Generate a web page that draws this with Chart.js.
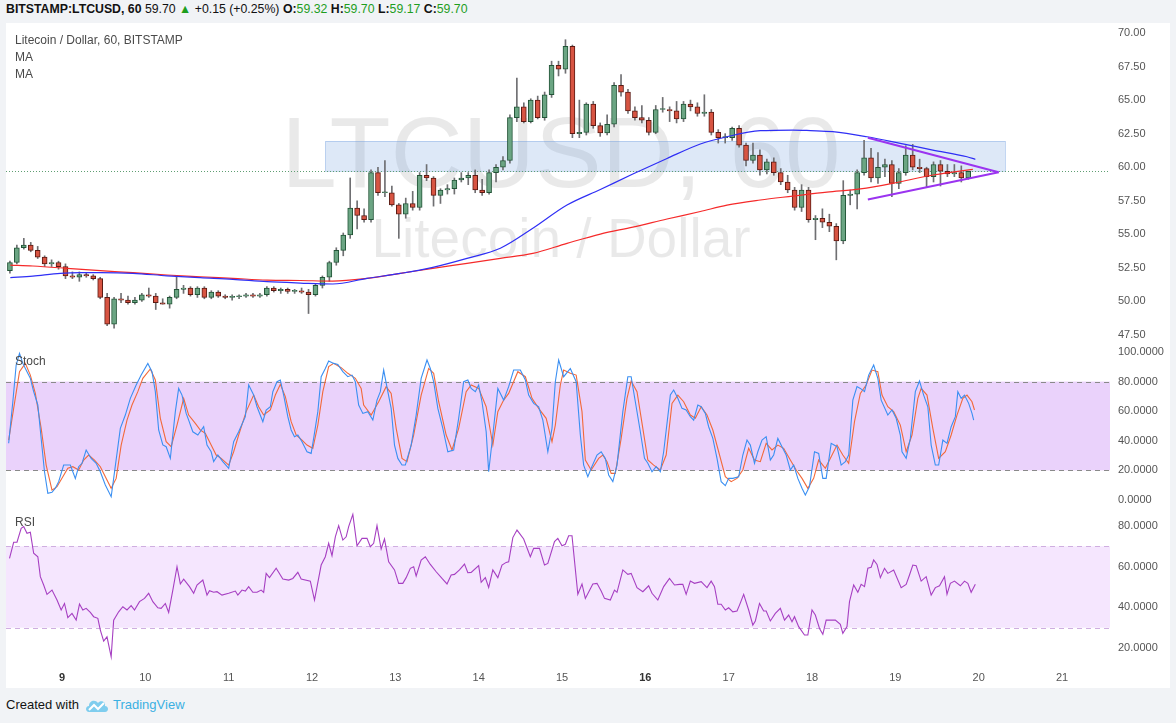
<!DOCTYPE html>
<html lang="en">

<head>
    <meta charset="UTF-8">
    <title>LTCUSD 60</title>
    <style>
        body {
            margin: 0;
            width: 1176px;
            height: 723px;
            background: #f1f3f6;
            font-family: "Liberation Sans", Arial, sans-serif;
            position: relative;
            overflow: hidden;
        }

        #hdr {
            position: absolute;
            left: 6px;
            top: 2px;
            font-size: 12.3px;
            color: #111;
            white-space: nowrap;
        }

        #hdr .g {
            color: #1e9e1e;
        }

        #panel {
            position: absolute;
            left: 6px;
            top: 23px;
            width: 1164px;
            height: 665px;
            background: #fff;
        }

        .pane {
            position: absolute;
            left: 6px;
        }

        .lbl {
            position: absolute;
            left: 15px;
            font-size: 12px;
            color: #4a4a4a;
            white-space: nowrap;
        }

        #foot {
            position: absolute;
            left: 6px;
            top: 697px;
            font-size: 13px;
            color: #131313;
            white-space: nowrap;
        }

        #foot svg {
            vertical-align: -4px;
            margin: 0 4px 0 6px;
        }

        #foot .tv {
            color: #3bb0e2;
        }
    </style>
</head>

<body>
    <div id="hdr"><b>BITSTAMP:LTCUSD, 60</b> 59.70 <span class="g">&#9650;</span> +0.15 (+0.25%)
        <b>O:</b><span class="g">59.32</span> <b>H:</b><span class="g">59.70</span> <b>L:</b><span
            class="g">59.17</span> <b>C:</b><span class="g">59.70</span></div>
    <div id="panel"></div>

    <canvas id="cvsMain" class="pane" width="1164" height="322" style="top:23px"></canvas>
    <canvas id="cvsStoch" class="pane" width="1164" height="167" style="top:345px"></canvas>
    <canvas id="cvsRsi" class="pane" width="1164" height="176" style="top:512px"></canvas>

    <div class="lbl" style="top:33px">Litecoin / Dollar, 60, BITSTAMP</div>
    <div class="lbl" style="top:50px">MA</div>
    <div class="lbl" style="top:67px">MA</div>
    <div class="lbl" style="top:354px">Stoch</div>
    <div class="lbl" style="top:515px">RSI</div>

    <div id="foot">Created with<svg width="24" height="16" viewBox="0 0 24 16">
            <path d="M4 15 C0 15 0 9 4 9 C4 4 10 2 13 6 C15 3 21 4 20 9 C24 9 24 15 20 15 Z" fill="#7fcdee" />
            <path d="M4 13 L9 8 L13 12 L19 6" stroke="#fff" stroke-width="2" fill="none" />
        </svg><span class="tv">TradingView</span></div>

    <script src="https://cdn.jsdelivr.net/npm/chart.js@4.4.0/dist/chart.umd.min.js"></script>

    <script>
        // ---- data ----
        // 2-hour candles, first one at day 8 09:00
        const candleStartDay = 8.375;
        const candleStepDay = 1 / 12;

        const opens = [52.3, 52.9, 54.0, 54.2, 53.8, 53.3, 52.8, 52.9, 52.6, 51.9,
            51.8, 52.0, 51.9, 51.7, 50.3, 48.3, 50.2, 50.1, 49.9, 50.1,
            50.5, 50.4, 49.9, 49.8, 50.3, 50.9, 51.0, 50.5, 51.0, 50.3,
            50.7, 50.4, 50.3, 50.35, 50.4, 50.5, 50.4, 50.5, 51.0, 50.8,
            50.9, 50.75, 50.8, 50.7, 50.5, 51.2, 51.8, 52.9, 53.8, 54.95,
            56.96, 56.4, 56.1, 59.6, 58.1, 58.1, 57.2, 56.5, 57.3, 57.0,
            59.4, 59.2, 57.9, 58.3, 58.4, 59.05, 59.2, 59.4, 58.3, 58.1,
            59.6, 60.0, 60.5, 63.7, 64.5, 63.4, 65.0, 63.7, 65.4, 67.6,
            67.3, 69.0, 62.5, 62.6, 64.7, 63.1, 62.55, 63.2, 66.1, 65.6,
            64.2, 63.7, 63.5, 62.6, 64.3, 64.3, 64.2, 63.6, 64.7, 64.5,
            64.0, 64.1, 62.6, 62.2, 62.2, 62.9, 61.65, 60.5, 60.9, 59.8,
            60.4, 59.6, 58.9, 58.3, 57.0, 58.3, 56.1, 56.2, 55.9, 55.6,
            54.5, 57.9, 58.0, 59.6, 60.7, 59.2, 60.0, 60.2, 58.8, 59.6,
            60.9, 60.0, 59.9, 59.3, 60.2, 59.7, 59.5, 59.6, 59.2];
        const highs = [53.0, 54.2, 54.7, 54.4, 54.1, 53.4, 53.1, 53.0, 52.8, 52.2,
            52.2, 52.1, 52.0, 51.8, 50.6, 50.3, 50.6, 50.4, 50.3, 50.6,
            51.0, 50.6, 50.2, 50.4, 51.9, 51.2, 51.1, 51.1, 51.1, 50.8,
            50.8, 50.5, 50.5, 50.5, 50.6, 50.6, 50.6, 51.1, 51.1, 51.0,
            51.0, 50.9, 51.0, 50.9, 51.3, 51.9, 53.0, 54.0, 55.1, 59.2,
            57.5, 56.9, 59.8, 60.0, 60.5, 58.6, 57.3, 57.7, 58.2, 59.6,
            60.2, 59.3, 58.4, 58.7, 59.2, 59.6, 59.6, 59.8, 59.1, 59.8,
            60.2, 60.8, 63.9, 66.65, 64.8, 65.1, 65.3, 65.6, 67.9, 67.9,
            69.5, 69.1, 65.0, 64.8, 64.9, 63.3, 63.9, 66.3, 66.9, 65.8,
            64.5, 64.6, 63.7, 64.6, 65.2, 64.5, 64.9, 64.9, 65.0, 64.8,
            65.4, 64.3, 62.8, 62.5, 63.0, 63.1, 61.8, 61.8, 61.3, 60.6,
            60.7, 59.9, 59.4, 58.5, 58.7, 58.5, 56.4, 56.9, 56.5, 55.8,
            59.0, 58.3, 59.8, 62.0, 61.4, 61.1, 60.6, 60.5, 59.9, 61.6,
            61.7, 60.6, 60.0, 60.4, 60.5, 60.2, 60.2, 60.1, 59.7];
        const lows = [52.1, 52.8, 53.9, 53.7, 53.2, 52.6, 52.6, 52.4, 51.7, 51.7,
            51.5, 51.8, 51.6, 50.2, 48.2, 48.0, 49.9, 49.8, 49.8, 50.0,
            50.3, 49.4, 49.8, 49.5, 50.2, 50.6, 50.4, 50.3, 50.2, 50.2,
            50.3, 50.2, 50.1, 50.2, 50.3, 50.3, 50.3, 50.4, 50.7, 50.6,
            50.6, 50.6, 50.6, 49.1, 50.4, 51.0, 51.5, 52.7, 53.4, 54.7,
            55.4, 55.9, 55.9, 57.9, 57.8, 57.1, 54.7, 56.2, 56.8, 56.8,
            59.0, 57.1, 57.3, 58.0, 58.0, 58.9, 58.7, 58.1, 57.9, 58.0,
            58.9, 59.8, 60.3, 63.4, 63.3, 63.3, 63.6, 63.5, 65.2, 66.8,
            67.0, 62.2, 62.2, 62.4, 62.9, 62.3, 62.4, 63.0, 65.3, 64.0,
            63.5, 63.3, 62.4, 62.5, 64.1, 63.4, 63.3, 63.4, 64.2, 63.8,
            63.8, 62.4, 61.8, 61.8, 62.0, 61.5, 60.1, 60.3, 59.4, 59.5,
            59.4, 58.7, 58.1, 56.8, 56.7, 55.9, 54.6, 55.5, 55.2, 53.1,
            54.3, 57.2, 56.9, 59.4, 58.9, 58.8, 59.3, 57.8, 58.4, 59.4,
            59.8, 59.6, 58.5, 58.9, 58.6, 59.3, 59.3, 58.9, 59.1];
        const closes = [52.9, 54.0, 54.2, 53.8, 53.3, 52.8, 52.9, 52.6, 51.9, 51.8,
            52.0, 51.9, 51.7, 50.3, 48.3, 50.2, 50.1, 49.9, 50.1, 50.5,
            50.4, 49.9, 49.8, 50.3, 50.9, 51.0, 50.5, 51.0, 50.3, 50.7,
            50.4, 50.3, 50.35, 50.4, 50.5, 50.4, 50.5, 51.0, 50.8, 50.9,
            50.75, 50.8, 50.7, 50.5, 51.2, 51.8, 52.9, 53.8, 54.95, 56.96,
            56.4, 56.1, 59.6, 58.1, 58.1, 57.2, 56.5, 57.3, 57.0, 59.4,
            59.2, 57.9, 58.3, 58.4, 59.05, 59.2, 59.4, 58.3, 58.1, 59.6,
            60.0, 60.5, 63.7, 64.5, 63.4, 65.0, 63.7, 65.4, 67.6, 67.3,
            69.0, 62.5, 62.6, 64.7, 63.1, 62.55, 63.2, 66.1, 65.6, 64.2,
            63.7, 63.5, 62.6, 64.3, 64.3, 64.2, 63.6, 64.7, 64.5, 64.0,
            64.1, 62.6, 62.2, 62.2, 62.9, 61.65, 60.5, 60.9, 59.8, 60.4,
            59.6, 58.9, 58.3, 57.0, 58.3, 56.1, 56.2, 55.9, 55.6, 54.5,
            57.9, 58.0, 59.6, 60.7, 59.2, 60.0, 60.2, 58.8, 59.6, 60.9,
            60.0, 59.9, 59.3, 60.2, 59.7, 59.5, 59.6, 59.2, 59.7];

        // moving averages (blue = MA 100, red = MA 200)
        const maBlueDays = [8.38, 8.65, 8.98, 9.22, 9.46, 9.85, 10.26, 10.66, 11.05, 11.46, 11.86, 12.25, 12.66,
            13.06, 13.45, 13.86, 14.26, 14.65, 15.06, 15.46, 15.85, 16.26, 16.66, 16.98, 17.38, 17.77, 17.98,
            18.25, 18.66, 19.06, 19.45, 19.86, 19.96];
        const maBlueValues = [51.77, 51.89, 52.09, 52.14, 52.14, 52.09, 51.91, 51.77, 51.65, 51.47, 51.37, 51.30, 51.72,
            52.09, 52.54, 53.21, 53.96, 55.45, 57.18, 58.34, 59.49, 60.65, 61.73, 62.27, 62.72, 62.77, 62.73,
            62.65, 62.27, 61.78, 61.28, 60.78, 60.59];
        const maRedDays = [8.38, 8.65, 9.06, 9.46, 9.85, 10.26, 10.66, 11.05, 11.46, 11.86, 12.25, 12.66, 13.06,
            13.45, 13.86, 14.26, 14.65, 15.06, 15.46, 15.85, 16.26, 16.66, 16.98, 17.38, 17.77, 18.18, 18.58,
            19.06, 19.45, 19.86, 19.93];
        const maRedValues = [52.71, 52.64, 52.47, 52.29, 52.14, 51.97, 51.84, 51.72, 51.59, 51.56, 51.52, 51.72, 52.09,
            52.47, 52.84, 53.21, 53.58, 54.33, 55.02, 55.54, 56.14, 56.70, 57.18, 57.56, 57.85, 58.15, 58.38,
            58.92, 59.42, 59.79, 59.84];

        // drawings: resistance zone, triangle, last price
        const zoneDays = [12.16, 20.32];
        const zonePrices = [59.72, 61.95];
        const triangleDays = [18.67, 20.24];
        const triangleUpper = [62.2, 59.62];
        const triangleLower = [57.6, 59.62];
        const lastPrice = 59.70;

        // stochastic %K (blue) and %D (orange)
        const stochKDays = [8.36, 8.41, 8.45, 8.49, 8.53, 8.58, 8.62, 8.66, 8.71, 8.75, 8.79, 8.83, 8.88, 8.92, 8.96,
            9.02, 9.10, 9.16, 9.20, 9.24, 9.29, 9.35, 9.41, 9.46, 9.52, 9.59, 9.62, 9.70, 9.76, 9.82, 9.89, 9.95,
            10.03, 10.08, 10.12, 10.16, 10.21, 10.25, 10.30, 10.36, 10.40, 10.44, 10.49, 10.52, 10.57, 10.63, 10.70,
            10.74, 10.79, 10.82, 10.87, 10.93, 11.00, 11.06, 11.12, 11.20, 11.24, 11.30, 11.34, 11.41, 11.45, 11.50,
            11.53, 11.58, 11.62, 11.66, 11.71, 11.75, 11.79, 11.83, 11.88, 11.94, 11.99, 12.02, 12.07, 12.11, 12.16,
            12.20, 12.26, 12.31, 12.37, 12.43, 12.48, 12.52, 12.56, 12.61, 12.67, 12.73, 12.78, 12.82, 12.86, 12.91,
            12.95, 12.99, 13.03, 13.08, 13.12, 13.19, 13.25, 13.31, 13.38, 13.42, 13.46, 13.51, 13.57, 13.63, 13.70,
            13.76, 13.82, 13.87, 13.91, 13.96, 14.00, 14.04, 14.09, 14.12, 14.17, 14.23, 14.30, 14.36, 14.42, 14.50,
            14.56, 14.60, 14.66, 14.72, 14.77, 14.83, 14.88, 14.92, 14.96, 15.02, 15.10, 15.17, 15.22, 15.26, 15.31,
            15.35, 15.42, 15.47, 15.52, 15.56, 15.61, 15.66, 15.73, 15.79, 15.83, 15.88, 15.94, 15.99, 16.03, 16.08,
            16.13, 16.18, 16.22, 16.30, 16.34, 16.39, 16.44, 16.49, 16.54, 16.58, 16.63, 16.67, 16.72, 16.76, 16.81,
            16.86, 16.91, 16.96, 17.00, 17.05, 17.12, 17.17, 17.22, 17.26, 17.31, 17.35, 17.40, 17.45, 17.50, 17.54,
            17.59, 17.64, 17.69, 17.74, 17.78, 17.83, 17.88, 17.92, 17.97, 18.03, 18.08, 18.13, 18.17, 18.23, 18.30,
            18.35, 18.40, 18.44, 18.49, 18.54, 18.58, 18.63, 18.68, 18.74, 18.79, 18.83, 18.91, 18.96, 19.01, 19.06,
            19.08, 19.13, 19.18, 19.24, 19.29, 19.34, 19.39, 19.43, 19.48, 19.52, 19.57, 19.62, 19.67, 19.72, 19.75,
            19.79, 19.83, 19.88, 19.92, 19.94];
        const stochKValues = [38.3, 66.4, 91.2, 99.1, 92.3, 86.7, 82.2, 73.2, 64.2, 41.6, 19.1, 4.5, 5.2, 7.9, 12.4,
            23.6, 23.6, 14.6, 22.5, 24.8, 33.8, 28.1, 24.8, 19.1, 10.1, 2.2, 14.6, 48.4, 57.4, 68.7, 77.7, 84.4,
            92.3, 86.7, 73.2, 47.3, 37.2, 36.0, 28.1, 59.7, 75.4, 70.9, 58.5, 54.0, 46.1, 43.9, 49.5,
            37.1, 32.6, 25.9, 30.4, 25.9, 21.4, 39.4, 46.1, 56.3, 77.7, 70.9, 63.0, 52.9, 60.8, 63.0,
            73.2, 79.9, 81.1, 70.9, 56.3, 47.3, 42.8, 43.9, 39.4, 32.6, 31.5, 41.6, 59.7, 83.3, 88.9,
            93.9, 92.3, 91.6, 86.7, 83.3, 84.4, 79.9, 64.2, 58.5, 59.7, 54.0, 67.5, 73.2, 87.8, 73.2,
            61.9, 37.1, 28.1, 23.6, 23.6, 37.1, 57.4, 82.2, 94.6, 88.9, 79.9, 61.9, 48.4, 32.6, 33.8,
            55.2, 79.9, 81.1, 75.4, 73.2, 77.7, 66.4, 46.1, 19.1, 43.9, 75.4, 67.5, 76.6, 87.8, 87.8,
            81.1, 70.9, 65.3, 63.0, 54.0, 32.6, 48.4, 79.9, 94.6, 83.3, 88.9, 79.9, 43.9, 23.6, 15.7,
            21.4, 30.4, 32.6, 28.1, 16.9, 12.4, 23.6, 59.7, 83.3, 83.3, 66.4, 46.1, 28.1, 24.8, 19.1,
            22.5, 19.1, 32.6, 70.9, 74.3, 68.7, 61.9, 60.8, 56.3, 54.0, 64.2, 63.0, 58.5, 49.5, 41.6,
            28.1, 12.4, 9.7, 14.6, 14.6, 15.7, 30.4, 40.5, 37.1, 24.8, 32.6, 40.5, 42.8, 27.0, 30.4,
            41.6, 36.0, 30.4, 20.3, 23.6, 14.6, 7.9, 3.4, 9.0, 32.6, 31.5, 14.6, 14.6, 38.3, 36.0,
            23.6, 25.9, 30.4, 67.5, 76.6, 75.4, 73.2, 84.4, 91.2, 82.2, 67.5, 57.4, 60.8, 55.2, 43.9,
            32.6, 28.1, 41.6, 73.2, 80.4, 70.9, 63.0, 37.1, 23.6, 23.6, 40.5, 38.3, 49.5, 56.3, 73.2,
            68.7, 70.9, 65.3, 58.5, 54.0];
        const stochDDays = [8.36, 8.42, 8.49, 8.56, 8.62, 8.68, 8.75, 8.81, 8.88, 8.94, 9.01, 9.07, 9.13, 9.20, 9.26,
            9.32, 9.39, 9.46, 9.52, 9.59, 9.65, 9.71, 9.78, 9.84, 9.91, 9.97, 10.06, 10.12, 10.18, 10.25, 10.31,
            10.38, 10.46, 10.52, 10.60, 10.66, 10.72, 10.79, 10.85, 10.91, 11.00, 11.06, 11.12, 11.21, 11.30, 11.36,
            11.42, 11.50, 11.56, 11.62, 11.68, 11.75, 11.81, 11.88, 11.94, 12.01, 12.07, 12.13, 12.20, 12.26, 12.35,
            12.43, 12.52, 12.59, 12.62, 12.71, 12.80, 12.89, 12.95, 13.01, 13.08, 13.14, 13.22, 13.31, 13.40, 13.46,
            13.52, 13.61, 13.68, 13.76, 13.85, 13.91, 14.00, 14.09, 14.17, 14.23, 14.30, 14.36, 14.47, 14.56, 14.64,
            14.72, 14.81, 14.88, 14.92, 14.98, 15.02, 15.10, 15.17, 15.24, 15.28, 15.35, 15.44, 15.49, 15.54, 15.59,
            15.64, 15.71, 15.78, 15.83, 15.90, 15.97, 16.03, 16.10, 16.18, 16.25, 16.32, 16.39, 16.46, 16.54, 16.60,
            16.67, 16.74, 16.81, 16.88, 16.96, 17.03, 17.10, 17.17, 17.24, 17.31, 17.38, 17.45, 17.52, 17.59, 17.66,
            17.74, 17.81, 17.88, 17.95, 18.02, 18.08, 18.16, 18.23, 18.30, 18.37, 18.44, 18.51, 18.58, 18.65, 18.72,
            18.79, 18.84, 18.91, 18.98, 19.06, 19.13, 19.20, 19.27, 19.31, 19.38, 19.45, 19.52, 19.60, 19.67, 19.74,
            19.81, 19.86, 19.92, 19.95];
        const stochDValues = [40.5, 61.9, 86.7, 92.3, 84.4, 72.0, 48.4, 23.6, 6.7, 9.0, 15.7, 21.4, 22.5, 20.3, 27.0,
            30.4, 27.0, 22.5, 15.7, 7.9, 14.6, 37.1, 54.0, 64.2, 73.2, 82.2, 88.5, 81.1, 55.2, 39.4, 36.0,
            50.6, 68.7, 57.4, 51.8, 47.3, 45.0, 37.1, 30.4, 28.1, 23.6, 32.6, 43.9, 59.7, 70.9, 63.0,
            57.4, 60.8, 70.9, 78.1, 69.8, 52.9, 43.9, 40.5, 37.1, 34.9, 50.6, 73.2, 90.1, 92.3, 89.4,
            85.6, 82.2, 75.4, 64.2, 57.4, 66.4, 76.6, 72.0, 48.4, 28.1, 25.9, 43.9, 70.9, 88.9, 85.6,
            66.4, 43.9, 33.8, 48.4, 73.2, 77.7, 75.4, 63.0, 37.1, 59.7, 67.5, 72.0, 86.7, 83.3, 68.7,
            61.9, 55.2, 39.4, 50.6, 77.7, 87.8, 85.6, 84.4, 59.7, 27.0, 20.3, 28.1, 30.4, 25.9, 18.0,
            18.0, 41.6, 68.7, 80.4, 73.2, 48.4, 27.0, 23.6, 20.3, 30.4, 65.3, 70.9, 66.4, 57.4, 55.2,
            63.0, 57.4, 47.3, 32.6, 15.7, 12.4, 14.6, 20.3, 34.9, 27.0, 25.9, 38.3, 33.8, 37.1, 34.9,
            27.0, 20.3, 14.6, 7.9, 14.6, 27.0, 21.4, 29.3, 37.1, 30.4, 24.8, 52.9, 72.0, 77.7, 87.8,
            86.7, 70.9, 63.0, 59.7, 50.6, 32.6, 43.9, 68.7, 75.4, 70.9, 48.4, 28.1, 32.6, 43.9, 57.4,
            68.7, 70.9, 66.4, 60.8];

        // RSI
        const rsiDays = [8.37, 8.42, 8.46, 8.51, 8.54, 8.58, 8.62, 8.66, 8.71, 8.74, 8.78, 8.82, 8.88, 8.94, 8.99,
            9.03, 9.07, 9.12, 9.17, 9.21, 9.25, 9.29, 9.34, 9.38, 9.43, 9.46, 9.50, 9.54, 9.59, 9.62, 9.68, 9.73,
            9.78, 9.83, 9.87, 9.93, 9.99, 10.04, 10.09, 10.15, 10.19, 10.24, 10.28, 10.33, 10.38, 10.42, 10.46,
            10.53, 10.58, 10.62, 10.69, 10.74, 10.77, 10.82, 10.86, 10.92, 11.00, 11.08, 11.11, 11.16, 11.20, 11.24,
            11.29, 11.34, 11.39, 11.42, 11.45, 11.49, 11.57, 11.65, 11.72, 11.77, 11.83, 11.87, 11.98, 12.03, 12.11,
            12.16, 12.20, 12.24, 12.28, 12.32, 12.37, 12.41, 12.44, 12.49, 12.54, 12.60, 12.66, 12.70, 12.74, 12.78,
            12.83, 12.87, 12.92, 12.99, 13.04, 13.09, 13.13, 13.18, 13.22, 13.25, 13.31, 13.36, 13.42, 13.49, 13.56,
            13.62, 13.67, 13.71, 13.77, 13.83, 13.87, 13.91, 14.00, 14.03, 14.08, 14.12, 14.17, 14.23, 14.28, 14.33,
            14.36, 14.41, 14.46, 14.49, 14.54, 14.62, 14.66, 14.73, 14.79, 14.83, 14.91, 14.95, 15.00, 15.04, 15.08,
            15.12, 15.19, 15.24, 15.28, 15.37, 15.42, 15.47, 15.51, 15.58, 15.63, 15.66, 15.73, 15.79, 15.83, 15.90,
            15.97, 16.04, 16.08, 16.15, 16.22, 16.29, 16.35, 16.41, 16.45, 16.49, 16.54, 16.59, 16.67, 16.74, 16.79,
            16.83, 16.87, 16.91, 16.96, 17.00, 17.05, 17.10, 17.13, 17.18, 17.24, 17.29, 17.32, 17.37, 17.42, 17.45,
            17.50, 17.56, 17.62, 17.67, 17.72, 17.76, 17.79, 17.84, 17.91, 17.95, 18.00, 18.04, 18.09, 18.13, 18.17,
            18.23, 18.28, 18.34, 18.37, 18.42, 18.45, 18.50, 18.55, 18.59, 18.63, 18.67, 18.71, 18.74, 18.78, 18.82,
            18.87, 18.91, 18.98, 19.07, 19.13, 19.17, 19.21, 19.25, 19.31, 19.37, 19.43, 19.48, 19.53, 19.59, 19.62,
            19.66, 19.71, 19.78, 19.83, 19.87, 19.91, 19.96];
        const rsiValues = [64.1, 72.0, 72.0, 78.9, 79.7, 76.4, 76.9, 66.6, 64.9, 55.1, 51.0, 46.4, 48.5, 43.6, 38.7,
            41.9, 34.9, 37.0, 33.7, 41.6, 38.7, 39.5, 37.5, 35.4, 34.6, 28.8, 23.4, 25.5, 15.7, 33.7, 37.8, 40.3,
            38.7, 40.8, 38.7, 42.8, 44.4, 46.9, 42.8, 39.8, 39.5, 41.9, 37.5, 48.5, 60.0, 51.5, 53.9,
            50.2, 46.9, 51.0, 53.4, 46.0, 48.2, 47.4, 47.7, 46.0, 46.9, 48.0, 46.0, 48.5, 48.0, 50.2,
            47.4, 47.4, 48.5, 47.4, 56.7, 54.6, 59.2, 53.9, 53.4, 54.2, 57.2, 53.9, 52.9, 43.6, 60.8,
            64.9, 71.5, 65.4, 74.7, 80.2, 73.1, 74.7, 79.7, 85.7, 70.3, 73.9, 73.9, 69.8, 71.5, 80.2,
            68.7, 73.6, 62.4, 58.4, 51.8, 51.8, 54.6, 59.2, 60.0, 55.4, 63.3, 64.9, 61.1, 57.5, 54.2,
            51.5, 55.9, 56.2, 58.4, 61.3, 57.0, 57.2, 60.5, 52.3, 54.6, 49.8, 58.4, 54.6, 60.8, 62.1,
            62.4, 74.3, 78.0, 76.4, 73.6, 64.9, 69.0, 69.0, 60.8, 61.6, 72.3, 73.9, 70.3, 71.0, 75.2,
            75.2, 46.4, 51.5, 44.4, 51.5, 51.8, 48.0, 44.4, 43.6, 48.5, 47.4, 58.4, 56.2, 56.7, 49.7,
            47.7, 50.6, 46.9, 43.6, 50.2, 54.2, 51.0, 51.3, 51.3, 46.4, 52.9, 51.8, 52.6, 49.7, 52.9,
            50.2, 41.5, 41.5, 38.7, 39.8, 37.8, 38.2, 41.1, 46.4, 38.7, 31.3, 33.3, 41.9, 38.2, 38.2,
            33.3, 37.0, 39.5, 33.7, 36.2, 32.9, 35.4, 30.5, 26.4, 26.4, 38.7, 36.2, 29.6, 26.7, 33.7,
            33.7, 33.7, 31.6, 27.2, 30.5, 42.8, 51.0, 47.4, 51.3, 50.2, 59.2, 59.7, 63.3, 61.1, 54.6,
            59.2, 56.7, 58.4, 49.7, 51.3, 55.9, 60.8, 60.5, 52.9, 55.1, 46.0, 49.7, 50.6, 55.1, 46.4,
            51.8, 52.9, 50.6, 52.9, 51.8, 47.4, 51.3];

        // axes
        const dayTicks = [9, 10, 11, 12, 13, 14, 15, 16, 17, 18, 19, 20, 21];
        const boldDays = [9, 16];
        const priceTicks = [47.5, 50, 52.5, 55, 57.5, 60, 62.5, 65, 67.5, 70];
        const stochTicks = [0, 20, 40, 60, 80, 100];
        const stochBand = [20, 80];
        const rsiTicks = [20, 40, 60, 80];
        const rsiBand = [30, 70];

        // ---- drawing ----
        Chart.defaults.font.family = '"Liberation Sans", Arial, sans-serif';
        Chart.defaults.font.size = 11;
        Chart.defaults.color = '#555';

        const xMin = 8.328, xMax = 21.576;
        const upFill = '#6ba583', upLine = '#225437';
        const downFill = '#d75442', downLine = '#5b1a13';

        const paneDecor = {
            id: 'paneDecor',
            beforeDatasetsDraw(chart, args, o) {
                const { ctx, chartArea: a } = chart;
                const x = chart.scales.x, y = chart.scales.y;
                ctx.save();
                ctx.beginPath();
                ctx.rect(a.left, a.top, a.width, a.height);
                ctx.clip();
                if (o.watermark) {
                    const cx = (a.left + a.right) / 2 + 3;
                    ctx.fillStyle = 'rgba(0,0,0,0.085)';
                    ctx.textAlign = 'center';
                    ctx.textBaseline = 'alphabetic';
                    ctx.font = '100px "Liberation Sans"';
                    ctx.fillText(o.watermark[0], cx, a.top + 164);
                    ctx.font = '55px "Liberation Sans"';
                    ctx.fillText(o.watermark[1], cx, a.top + 234);
                }
                if (o.zone) {
                    const x0 = x.getPixelForValue(zoneDays[0]), x1 = x.getPixelForValue(zoneDays[1]);
                    const y0 = y.getPixelForValue(zonePrices[1]), y1 = y.getPixelForValue(zonePrices[0]);
                    ctx.fillStyle = 'rgba(100,150,220,0.22)';
                    ctx.fillRect(x0, y0, x1 - x0, y1 - y0);
                    ctx.strokeStyle = 'rgba(100,150,220,0.35)';
                    ctx.lineWidth = 1;
                    ctx.strokeRect(Math.round(x0) + 0.5, Math.round(y0) + 0.5, x1 - x0, y1 - y0);
                }
                if (o.band) {
                    const yT = y.getPixelForValue(o.band[1]), yB = y.getPixelForValue(o.band[0]);
                    ctx.fillStyle = o.bandFill;
                    ctx.fillRect(a.left, yT, a.width, yB - yT);
                    ctx.strokeStyle = o.bandLine;
                    ctx.lineWidth = 1;
                    ctx.setLineDash([5, 4]);
                    [yT, yB].forEach(p => {
                        ctx.beginPath();
                        ctx.moveTo(a.left, Math.round(p) + 0.5);
                        ctx.lineTo(a.right, Math.round(p) + 0.5);
                        ctx.stroke();
                    });
                }
                if (o.priceLine != null) {
                    const p = Math.round(y.getPixelForValue(o.priceLine)) + 0.5;
                    ctx.strokeStyle = '#5f9e72';
                    ctx.lineWidth = 1;
                    ctx.setLineDash([1, 2]);
                    ctx.beginPath();
                    ctx.moveTo(a.left, p);
                    ctx.lineTo(a.right, p);
                    ctx.stroke();
                }
                ctx.restore();
            }
        };

        function fixedY(width) {
            return function (scale) {
                scale.width = width;
                scale.paddingTop = 0;
                scale.paddingBottom = 0;
            };
        }

        function yScale(min, max, tickList, digits) {
            return {
                type: 'linear',
                position: 'right',
                min: min,
                max: max,
                grid: { display: false, drawTicks: false },
                border: { display: false },
                ticks: {
                    padding: 8,
                    color: '#555',
                    callback: v => Number(v).toFixed(digits)
                },
                afterBuildTicks: s => { s.ticks = tickList.map(v => ({ value: v })); },
                afterFit: fixedY(60)
            };
        }

        const hiddenX = {
            type: 'linear',
            min: xMin,
            max: xMax,
            offset: false,
            display: false
        };

        function pts(days, vals) {
            return days.map((d, i) => ({ x: d, y: vals[i] }));
        }

        function isBoldTick(ctx) {
            return !!(ctx && ctx.tick && boldDays.includes(ctx.tick.value));
        }

        const common = {
            responsive: false,
            animation: false,
            events: [],
            layout: { padding: 0 }
        };

        const candleDays = opens.map((_, i) => candleStartDay + i * candleStepDay);
        const isUp = opens.map((o, i) => closes[i] >= o);

        new Chart(document.getElementById('cvsMain').getContext('2d'), {
            type: 'bar',
            data: {
                datasets: [{
                    type: 'line',
                    data: pts(triangleDays, triangleUpper),
                    borderColor: '#9b34f0',
                    borderWidth: 2,
                    pointRadius: 0,
                    order: 0
                }, {
                    type: 'line',
                    data: pts(triangleDays, triangleLower),
                    borderColor: '#9b34f0',
                    borderWidth: 2,
                    pointRadius: 0,
                    order: 0
                }, {
                    type: 'line',
                    data: pts(maBlueDays, maBlueValues),
                    borderColor: '#2f2ff5',
                    borderWidth: 1.2,
                    pointRadius: 0,
                    cubicInterpolationMode: 'monotone',
                    order: 1
                }, {
                    type: 'line',
                    data: pts(maRedDays, maRedValues),
                    borderColor: '#f52a2a',
                    borderWidth: 1.2,
                    pointRadius: 0,
                    cubicInterpolationMode: 'monotone',
                    order: 1
                }, {
                    type: 'bar',
                    data: candleDays.map((d, i) => ({ x: d, y: [opens[i], closes[i]] })),
                    backgroundColor: isUp.map(u => u ? upFill : downFill),
                    borderColor: isUp.map(u => u ? upLine : downLine),
                    borderWidth: 1,
                    borderSkipped: false,
                    barThickness: 5,
                    minBarLength: 1,
                    grouped: false,
                    order: 2
                }, {
                    type: 'bar',
                    data: candleDays.map((d, i) => ({ x: d, y: [lows[i], highs[i]] })),
                    backgroundColor: '#6f6f72',
                    borderWidth: 0,
                    barThickness: 1,
                    grouped: false,
                    order: 3
                }]
            },
            options: {
                ...common,
                plugins: {
                    legend: { display: false },
                    tooltip: { enabled: false },
                    paneDecor: {
                        watermark: ['LTCUSD, 60', 'Litecoin / Dollar'],
                        zone: true,
                        priceLine: lastPrice
                    }
                },
                scales: {
                    x: hiddenX,
                    y: yScale(46.755, 70.745, priceTicks, 2)
                }
            },
            plugins: [paneDecor]
        });

        new Chart(document.getElementById('cvsStoch').getContext('2d'), {
            type: 'line',
            data: {
                datasets: [{
                    data: pts(stochKDays, stochKValues),
                    borderColor: '#3a8ff2',
                    borderWidth: 1.1,
                    pointRadius: 0
                }, {
                    data: pts(stochDDays, stochDValues),
                    borderColor: '#f2693a',
                    borderWidth: 1.1,
                    pointRadius: 0
                }]
            },
            options: {
                ...common,
                plugins: {
                    legend: { display: false },
                    tooltip: { enabled: false },
                    paneDecor: { band: stochBand, bandFill: '#ead2fb', bandLine: '#8a8a8a' }
                },
                scales: {
                    x: hiddenX,
                    y: yScale(-8.11, 104.73, stochTicks, 4)
                }
            },
            plugins: [paneDecor]
        });

        new Chart(document.getElementById('cvsRsi').getContext('2d'), {
            type: 'line',
            data: {
                datasets: [{
                    data: pts(rsiDays, rsiValues),
                    borderColor: '#a63fc2',
                    borderWidth: 1.1,
                    pointRadius: 0
                }]
            },
            options: {
                ...common,
                plugins: {
                    legend: { display: false },
                    tooltip: { enabled: false },
                    paneDecor: { band: rsiBand, bandFill: '#f5e6fe', bandLine: '#cfaee0' }
                },
                scales: {
                    x: {
                        type: 'linear',
                        min: xMin,
                        max: xMax,
                        offset: false,
                        grid: { display: false, drawTicks: false },
                        border: { display: false },
                        ticks: {
                            padding: 7,
                            autoSkip: false,
                            maxRotation: 0,
                            color: ctx => isBoldTick(ctx) ? '#333' : '#555',
                            font: ctx => ({ size: 11, weight: isBoldTick(ctx) ? 'bold' : 'normal' }),
                            callback: v => String(v)
                        },
                        afterBuildTicks: s => { s.ticks = dayTicks.map(v => ({ value: v })); },
                        afterFit: s => { s.height = 24; s.paddingLeft = 0; s.paddingRight = 0; }
                    },
                    y: yScale(12.13, 86.89, rsiTicks, 4)
                }
            },
            plugins: [paneDecor]
        });
    </script>
</body>

</html>
